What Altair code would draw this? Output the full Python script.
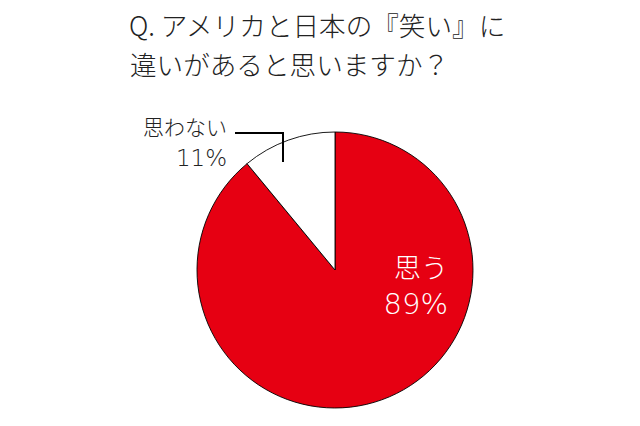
import altair as alt
import pandas as pd

categories = ["思う", "思わない"]
values = [89, 11]
colors = ["#E60012", "#FFFFFF"]
title_lines = ["Q. アメリカと日本の『笑い』に", "違いがあると思いますか？"]
label_yes = ["思う", "89%"]
label_no = ["思わない", "11%"]

FONT = "Noto Sans CJK JP"
NUMFONT = "DejaVu Sans"

df = pd.DataFrame({"cat": categories, "val": values, "order": [0, 1]})

pie = alt.Chart(df).mark_arc(stroke="#000000", strokeWidth=0.9, radius=138).encode(
    theta=alt.Theta("val:Q", stack=True),
    order=alt.Order("order:Q"),
    color=alt.Color("cat:N", scale=alt.Scale(domain=categories, range=colors), legend=None),
    x=alt.value(327), y=alt.value(262),
)

def text_layer(txt, x, y, size, color="#222222", align="left", font=FONT, weight=300):
    return alt.Chart(pd.DataFrame({"t": [txt]})).mark_text(
        font=font, fontSize=size, align=align, baseline="middle", color=color,
        fontWeight=weight,
    ).encode(text="t:N", x=alt.value(x), y=alt.value(y))

layers = [pie]
layers.append(text_layer(title_lines[0], 121, 20, 26.6))
layers.append(text_layer(title_lines[1], 122, 59, 26.6))
layers.append(text_layer(label_no[0], 219, 121, 21, align="right"))
layers.append(text_layer(label_no[1], 219, 151, 23, align="right", font=NUMFONT, weight=200))
layers.append(text_layer(label_yes[0], 440, 262, 27, color="#FFFFFF", align="right"))
layers.append(text_layer(label_yes[1], 440, 297, 29, color="#FFFFFF", align="right", font=NUMFONT, weight=200))

lead_df = pd.DataFrame({"k": [0]})
hline = alt.Chart(lead_df).mark_rule(color="#000000", strokeWidth=2).encode(
    x=alt.value(227), x2=alt.value(276), y=alt.value(125)
)
vline = alt.Chart(lead_df).mark_rule(color="#000000", strokeWidth=2).encode(
    x=alt.value(275), y=alt.value(124), y2=alt.value(154)
)
layers += [hline, vline]

chart = alt.layer(*layers).properties(
    width=624, height=410,
    autosize=alt.AutoSizeParams(type="none"),
    padding=0,
).configure_view(stroke=None)

chart.save("out.html", embed_options={"renderer": "svg", "actions": False})
